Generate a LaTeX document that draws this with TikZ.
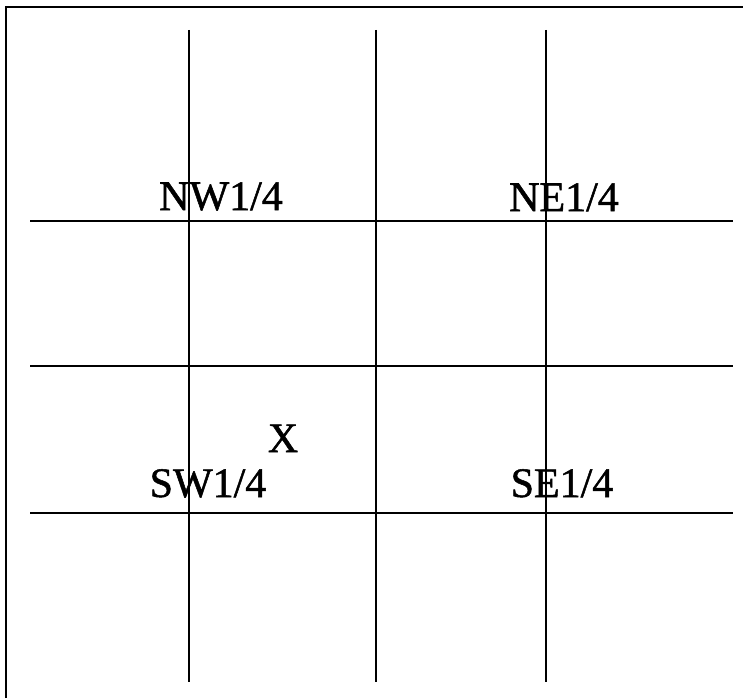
\documentclass[tikz,border=0pt]{standalone}
\usepackage{fontspec}
\setmainfont{Liberation Serif}
\newfontfamily\lblfont[FakeBold=1.2]{Liberation Serif}
\begin{document}
\begin{tikzpicture}[x=1pt,y=-1pt,
  gridline/.style={line width=1.6pt,black},
  lbl/.style={anchor=base,inner sep=0pt,font=\lblfont\fontsize{42}{48}\selectfont}]
\useasboundingbox (0,0) rectangle (743,698);
\fill[white] (0,0) rectangle (743,698);
% frame (left and top)
\draw[line width=2pt] (6,698) -- (6,7) -- (743,7);
% vertical lines
\foreach \x in {189,376,546} \draw[gridline] (\x,30) -- (\x,682);
% horizontal lines
\foreach \y in {221,366,513} \draw[gridline] (30,\y) -- (733,\y);
% labels
\node[lbl] (nw) at (221,210) {NW1/4};
\node[lbl] (ne) at (564,211) {NE1/4};
\node[lbl] (x) at (283,452) {X};
\node[lbl] (sw) at (208,497) {SW1/4};
\node[lbl] (se) at (562,497) {SE1/4};
\end{tikzpicture}
\end{document}
